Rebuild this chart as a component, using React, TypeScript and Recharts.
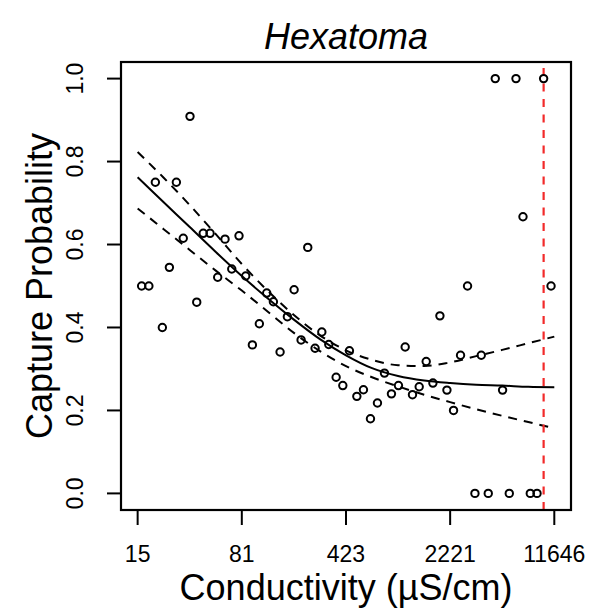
import React from 'react';
import { ComposedChart, XAxis, YAxis, Scatter, Line, ReferenceLine } from 'recharts';

// Observed capture probability per site
const conductivity = [
  16.4, 18.4, 20.4, 22.8, 25.5, 28.5, 31.8, 35.4, 39.4, 43.7,
  48.7, 55.0, 61.8, 68.8, 77.2, 85.9, 95.5, 106.7, 120.0, 133.4,
  148.4, 166.7, 185.5, 207.3, 230.5, 259.0, 288.3, 322.1, 362.0, 402.6,
  447.2, 503.3, 559.1, 625.0, 698.6, 781.0, 872.9, 975.9, 1085.9, 1219.7,
  1357.1, 1517.1, 1688, 1887, 2110, 2344, 2620, 2929, 3295, 3643,
  4072, 4552, 5114, 5690, 6330, 7076, 7949, 8845, 9826, 11056,
];
const captureProb = [
  0.5, 0.5, 0.75, 0.4, 0.545, 0.75, 0.615, 0.909, 0.461, 0.627,
  0.627, 0.521, 0.613, 0.541, 0.621, 0.524, 0.358, 0.409, 0.483, 0.462,
  0.341, 0.426, 0.491, 0.37, 0.593, 0.35, 0.389, 0.359, 0.28, 0.26,
  0.344, 0.234, 0.25, 0.18, 0.218, 0.29, 0.24, 0.26, 0.353, 0.238,
  0.257, 0.318, 0.266, 0.428, 0.249, 0.2, 0.333, 0.5, 0, 0.333,
  0, 1, 0.249, 0, 1, 0.667, 0, 0, 1, 0.5,
];

// Fitted curve and confidence bounds, read at a common conductivity grid
const curveC = [15.39, 23.29, 35.25, 53.34, 80.72, 122.2, 184.9, 279.8, 423.4, 640.8, 969.8, 1468, 2221, 3361, 5087, 7698, 11646];
const fitP = [0.762, 0.702, 0.642, 0.582, 0.524, 0.47, 0.419, 0.372, 0.333, 0.302, 0.283, 0.272, 0.266, 0.262, 0.26, 0.257, 0.256];
const upperP = [0.823, 0.761, 0.695, 0.625, 0.553, 0.488, 0.43, 0.381, 0.345, 0.322, 0.309, 0.307, 0.316, 0.331, 0.346, 0.362, 0.378];
const lowerP = [0.687, 0.637, 0.587, 0.537, 0.489, 0.438, 0.387, 0.343, 0.307, 0.28, 0.258, 0.238, 0.22, 0.203, 0.187, 0.172, 0.157];

const cutoffC = 9826;

const xTicks = [15.39, 80.72, 423.4, 2221, 11646];
const xTickLabels = ['15', '81', '423', '2221', '11646'];
const yTicks = [0, 0.2, 0.4, 0.6, 0.8, 1.0];

const X_DOMAIN: [number, number] = [11.81, 15190];
const Y_DOMAIN: [number, number] = [-0.04, 1.04];

const W = 591;
const H = 610;
const MARGIN = { top: 62, right: 20, bottom: 40, left: 0 };
const Y_AXIS_W = 121;
const X_AXIS_H = 60;
const PLOT = {
  x: MARGIN.left + Y_AXIS_W,
  y: MARGIN.top,
  w: W - MARGIN.left - Y_AXIS_W - MARGIN.right,
  h: H - MARGIN.top - MARGIN.bottom - X_AXIS_H,
};
const FONT = '"Liberation Sans", Arial, Helvetica, sans-serif';
const LINE = { stroke: '#000', strokeWidth: 2 };

const pairs = (cs: number[], ps: number[]) => cs.map((c, i) => ({ c, p: ps[i] }));

const XTick = (props: any) => {
  const { x, y, index } = props;
  return (
    <text x={x} y={y} dy={35} textAnchor="middle" fontSize={23} fontFamily={FONT} fill="#000">
      {xTickLabels[index]}
    </text>
  );
};

const YTick = (props: any) => {
  const { x, y, payload } = props;
  const bx = x - 22;
  return (
    <text x={bx} y={y} transform={`rotate(-90 ${bx} ${y})`} textAnchor="middle" fontSize={23} fontFamily={FONT} fill="#000">
      {Number(payload.value).toFixed(1)}
    </text>
  );
};

const Ring = (props: any) => {
  const { cx, cy } = props;
  if (cx == null || cy == null) return null;
  return <circle cx={cx} cy={cy} r={3.7} fill="none" stroke="#000" strokeWidth={2} />;
};

export default function App() {
  const points = pairs(conductivity, captureProb);
  const fit = pairs(curveC, fitP);
  const upper = pairs(curveC, upperP);
  const lower = pairs(curveC, lowerP);
  return (
    <div style={{ position: 'absolute', left: 0, top: 0, width: W, height: H, background: '#fff' }}>
      <ComposedChart width={W} height={H} margin={MARGIN}>
        <XAxis
          type="number"
          dataKey="c"
          scale="log"
          domain={X_DOMAIN}
          allowDataOverflow
          ticks={xTicks}
          interval={0}
          height={X_AXIS_H}
          tickSize={15}
          axisLine={LINE}
          tickLine={LINE}
          tick={<XTick />}
        />
        <YAxis
          type="number"
          dataKey="p"
          domain={Y_DOMAIN}
          allowDataOverflow
          ticks={yTicks}
          interval={0}
          width={Y_AXIS_W}
          tickSize={14}
          axisLine={LINE}
          tickLine={LINE}
          tick={<YTick />}
        />
        <Scatter data={points} dataKey="p" shape={<Ring />} isAnimationActive={false} />
        <Line data={fit} dataKey="p" type="monotone" stroke="#000" strokeWidth={2} dot={false} isAnimationActive={false} />
        <Line data={upper} dataKey="p" type="monotone" stroke="#000" strokeWidth={2} strokeDasharray="9 7" dot={false} isAnimationActive={false} />
        <Line data={lower} dataKey="p" type="monotone" stroke="#000" strokeWidth={2} strokeDasharray="9 7" dot={false} isAnimationActive={false} />
        <ReferenceLine x={cutoffC} stroke="#f22a2a" strokeWidth={2.2} strokeDasharray="8 7.5" />
      </ComposedChart>
      <svg width={W} height={H} style={{ position: 'absolute', left: 0, top: 0, pointerEvents: 'none' }}>
        <rect x={PLOT.x} y={PLOT.y} width={PLOT.w} height={PLOT.h} fill="none" stroke="#000" strokeWidth={2.2} />
        <text x={PLOT.x + PLOT.w / 2} y={49} textAnchor="middle" fontSize={36} fontStyle="italic" fontFamily={FONT} fill="#000">
          Hexatoma
        </text>
        <text x={PLOT.x + PLOT.w / 2} y={600} textAnchor="middle" fontSize={36} fontFamily={FONT} fill="#000">
          Conductivity (µS/cm)
        </text>
        <text x={52} y={PLOT.y + PLOT.h / 2} transform={`rotate(-90 52 ${PLOT.y + PLOT.h / 2})`} textAnchor="middle" fontSize={36} fontFamily={FONT} fill="#000">
          Capture Probability
        </text>
      </svg>
    </div>
  );
}
